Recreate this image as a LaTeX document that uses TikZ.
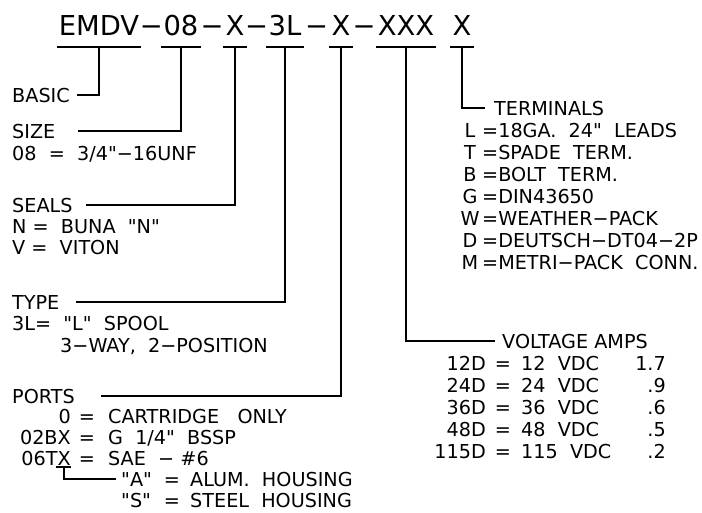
\documentclass[tikz,border=0pt]{standalone}
\usepackage{fontspec}
\newfontfamily\cadfont{DejaVu Sans}

\begin{document}
\begin{tikzpicture}[
        x=1pt, y=-1pt,
        part/.style={font=\cadfont\fontsize{27.4}{30}\selectfont, inner xsep=2pt, inner ysep=0pt, anchor=base},
        lbl/.style={font=\cadfont\fontsize{19.2}{22}\selectfont, inner sep=0pt, text height=14pt, text depth=0pt, anchor=west},
        lead/.style={line width=1.6pt}
    ]
        \useasboundingbox (0,0) rectangle (702,512);

        % part number
        \node[part] (cBasic) at (99,35) {EMDV};
        \node[part] (cSize) at (181,35) {08};
        \node[part] (cSeal) at (235,35) {X};
        \node[part] (cType) at (285,35) {3L};
        \node[part] (cPort) at (341,35) {X};
        \node[part] (cVolt) at (406,35) {XXX};
        \node[part] (cTerm) at (462,35) {X};
        \path (cBasic.base east) -- (cSize.base west) node[part, midway] (m1) {−};
        \path (cSize.base east) -- (cSeal.base west) node[part, midway] (m2) {−};
        \path (cSeal.base east) -- (cType.base west) node[part, midway] (m3) {−};
        \path (cType.base east) -- (cPort.base west) node[part, midway] (m4) {−};
        \path (cPort.base east) -- (cVolt.base west) node[part, midway] (m5) {−};

        \foreach \p in {cBasic,cSize,cSeal,cType,cPort,cVolt,cTerm}
            \draw[lead] ([yshift=-12]\p.base west) -- ([yshift=-12]\p.base east);

        % left column
        \node[lbl] (basic) at (12,95) {BASIC};
        \node[lbl] (size) at (12,131) {SIZE};
        \node[lbl] (sizeA) at (12,153) {08~~=~~3/4"−16UNF};
        \node[lbl] (seals) at (12,205) {SEALS};
        \node[lbl] (sealsN) at (12,226) {N =~~BUNA~~"N"};
        \node[lbl] (sealsV) at (12,247) {V =~~VITON};
        \node[lbl] (type) at (12,302) {TYPE};
        \node[lbl] (typeA) at (12,323) {3L=~~"L"~~SPOOL};
        \node[lbl] (typeB) at (60,345) {3−WAY,~~2−POSITION};
        \node[lbl] (ports) at (12,396) {PORTS};
        \foreach \c/\d [count=\i] in {0/{CARTRIDGE~~~ONLY}, 02BX/{G~~1/4"~~BSSP}, 06TX/{SAE~~−~\#6}} {
            \node[lbl, anchor=east] (pc\i) at (71,395+21*\i) {\c};
            \node[lbl, anchor=center] (pe\i) at (87,395+21*\i) {=};
            \node[lbl] (pd\i) at (108,395+21*\i) {\d};
        }
        \foreach \c/\d [count=\i] in {A/{ALUM.~~HOUSING}, S/{STEEL~~HOUSING}} {
            \node[lbl] (hc\i) at (121,458+21*\i) {"\c"};
            \node[lbl, anchor=center] (he\i) at (172,458+21*\i) {=};
            \node[lbl] (hd\i) at (190,458+21*\i) {\d};
        }

        % right column
        \node[lbl] (term) at (494,108) {TERMINALS};
        \foreach \c/\d [count=\i] in {L/{=18GA.~~24"~~LEADS}, T/{=SPADE~~TERM.}, B/{=BOLT~~TERM.}, G/{=DIN43650}, W/{=WEATHER−PACK}, D/{=DEUTSCH−DT04−2P}, M/{=METRI−PACK~~CONN.}} {
            \node[lbl, anchor=center] (tc\i) at (470,108+22*\i) {\c};
            \node[lbl] (td\i) at (482,108+22*\i) {\d};
        }
        \node[lbl] (volt) at (502,341) {VOLTAGE AMPS};
        \foreach \c/\v/\a [count=\i] in {12D/12/1.7, 24D/24/.9, 36D/36/.6, 48D/48/.5, 115D/115/.2} {
            \node[lbl, anchor=east] (vc\i) at (486,341+22*\i) {\c};
            \node[lbl, anchor=center] (ve\i) at (503,341+22*\i) {=};
            \node[lbl] (vv\i) at (521,341+22*\i) {\v~~VDC};
            \node[lbl, anchor=east] (va\i) at (666,341+22*\i) {\a};
        }

        % leaders
        \draw[lead] ([yshift=-12]cBasic.base) |- ([xshift=7]basic.east);
        \draw[lead] ([yshift=-12]cSize.base) |- ([xshift=22]size.east);
        \draw[lead] ([yshift=-12]cSeal.base) |- ([xshift=13]seals.east);
        \draw[lead] ([yshift=-12]cType.base) |- ([xshift=16]type.east);
        \draw[lead] ([yshift=-12]cPort.base) |- ([xshift=26]ports.east);
        \draw[lead] ([yshift=-12]cVolt.base) |- ([xshift=-7]volt.west);
        \draw[lead] ([yshift=-12]cTerm.base) |- ([xshift=-9]term.west);
        \draw[lead] ([xshift=-15,yshift=-2]pc3.south east) -- ([yshift=-2]pc3.south east);
        \draw[lead] ([xshift=-7,yshift=-2]pc3.south east) |- ([xshift=-5]hc1.west);
\end{tikzpicture}
\end{document}
